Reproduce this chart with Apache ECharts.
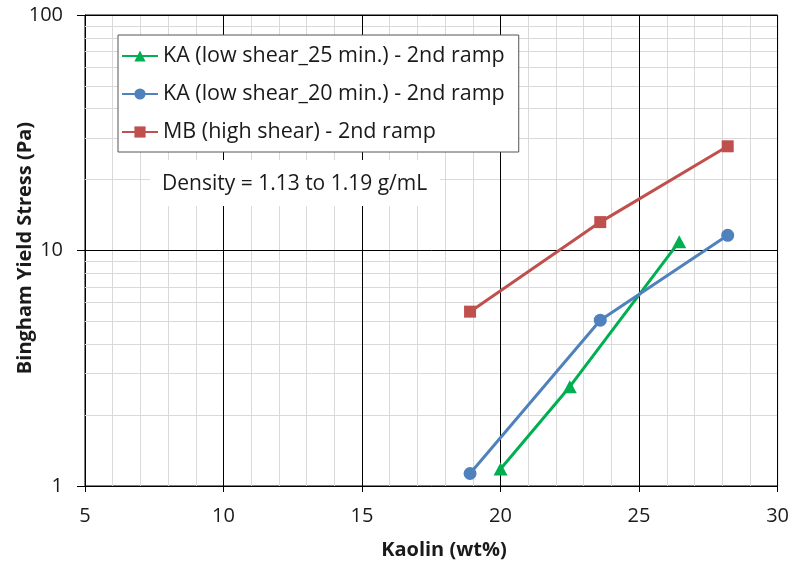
<!DOCTYPE html>
<html>
<head>
<meta charset="utf-8">
<script src="https://cdn.jsdelivr.net/npm/echarts@6/dist/echarts.min.js"></script>
<style>
html, body { margin: 0; padding: 0; background: #fff; }
#chart { width: 792px; height: 571px; }
</style>
</head>
<body>
<div id="chart"></div>
<script>
// Kaolin content (wt%) and Bingham yield stress (Pa) for each test series
const seriesNames = [
  'KA (low shear_25 min.) - 2nd ramp',
  'KA (low shear_20 min.) - 2nd ramp',
  'MB (high shear) - 2nd ramp'
];
const kaolinKA25 = [20.0, 22.5, 26.45];
const stressKA25 = [1.18, 2.64, 10.9];
const kaolinKA20 = [18.9, 23.6, 28.2];
const stressKA20 = [1.13, 5.06, 11.6];
const kaolinMB = [18.9, 23.6, 28.2];
const stressMB = [5.5, 13.2, 27.7];

// Axis ranges and grid line values
const xMin = 5, xMax = 30, xStep = 5;
const yMin = 1, yMax = 100;
const xMajorGrid = [10, 15, 20, 25, 30];
const yMajorGrid = [10, 100];
const yMinorGrid = [2, 3, 4, 5, 6, 7, 8, 9, 20, 30, 40, 50, 60, 70, 80, 90];
const noteText = 'Density = 1.13 to 1.19 g/mL';

const FONT = "'Open Sans', 'Liberation Sans', sans-serif";
const colors = ['#00b050', '#4f81bd', '#c0504d'];

const pairs = (xs, ys) => xs.map((x, i) => [x, ys[i]]);

const chart = echarts.init(document.getElementById('chart'), null, { renderer: 'canvas' });

chart.setOption({
  animation: false,
  backgroundColor: '#fff',
  textStyle: { fontFamily: FONT },
  grid: {
    left: 85, right: 14, top: 15, bottom: 85,
    show: true, borderColor: '#000', borderWidth: 1, backgroundColor: 'transparent'
  },
  xAxis: {
    type: 'value',
    min: xMin, max: xMax, interval: xStep,
    axisLine: { show: true, lineStyle: { color: '#000', width: 1 } },
    axisTick: { show: true, inside: false, length: 6, lineStyle: { color: '#000' } },
    axisLabel: { margin: 20, fontSize: 20, color: '#1a1a1a', fontFamily: FONT },
    splitLine: { show: false },
    minorTick: { show: false, splitNumber: 5 },
    minorSplitLine: { show: true, lineStyle: { color: '#d9d9d9', width: 1 } }
  },
  yAxis: {
    type: 'log', logBase: 10,
    min: yMin, max: yMax,
    axisLine: { show: true, lineStyle: { color: '#000', width: 1 } },
    axisTick: { show: true, inside: false, length: 8, lineStyle: { color: '#000' } },
    axisLabel: { margin: 22, fontSize: 20, color: '#1a1a1a', fontFamily: FONT },
    splitLine: { show: false },
    minorSplitLine: { show: false }
  },
  legend: {
    z: 100,
    data: seriesNames,
    orient: 'vertical',
    left: 118, top: 35,
    padding: [10, 14, 9, 3],
    itemGap: 16,
    itemWidth: 36, itemHeight: 14,
    backgroundColor: '#fff',
    borderColor: '#555', borderWidth: 1,
    textStyle: { fontSize: 21.5, color: '#1a1a1a', fontFamily: FONT, padding: [0, 0, 0, 0] }
  },
  graphic: [
    {
      type: 'rect', z: 50,
      shape: { x: 150, y: 160, width: 290, height: 46 },
      style: { fill: '#fff' }
    },
    {
      type: 'text', z: 51, x: 162, y: 184,
      style: { text: noteText, font: '21px ' + FONT, fill: '#1a1a1a', verticalAlign: 'middle' }
    },
    {
      type: 'text', x: 444, y: 550,
      style: { text: 'Kaolin (wt%)', font: 'bold 20px ' + FONT, fill: '#1a1a1a', align: 'center', verticalAlign: 'middle' }
    },
    {
      type: 'text', x: 25, y: 248, rotation: Math.PI / 2,
      style: { text: 'Bingham Yield Stress (Pa)', font: 'bold 20px ' + FONT, fill: '#1a1a1a', align: 'center', verticalAlign: 'middle' }
    }
  ],
  series: [
    {
      name: 'minor-grid', type: 'line', data: [], z: 1, silent: true,
      markLine: {
        silent: true, symbol: 'none', animation: false,
        label: { show: false },
        lineStyle: { color: '#d9d9d9', width: 1, type: 'solid' },
        data: yMinorGrid.map(v => ({ yAxis: v }))
      }
    },
    {
      name: 'major-grid', type: 'line', data: [], z: 2, silent: true,
      markLine: {
        silent: true, symbol: 'none', animation: false,
        label: { show: false },
        lineStyle: { color: '#000', width: 1, type: 'solid' },
        data: xMajorGrid.map(v => ({ xAxis: v })).concat(yMajorGrid.map(v => ({ yAxis: v })))
      }
    },
    {
      name: seriesNames[0], type: 'line', z: 10,
      data: pairs(kaolinKA25, stressKA25),
      symbol: 'triangle', symbolSize: [14, 13],
      lineStyle: { color: colors[0], width: 3 },
      itemStyle: { color: colors[0] }
    },
    {
      name: seriesNames[1], type: 'line', z: 10,
      data: pairs(kaolinKA20, stressKA20),
      symbol: 'circle', symbolSize: 13,
      lineStyle: { color: colors[1], width: 3 },
      itemStyle: { color: colors[1] }
    },
    {
      name: seriesNames[2], type: 'line', z: 10,
      data: pairs(kaolinMB, stressMB),
      symbol: 'rect', symbolSize: 12,
      lineStyle: { color: colors[2], width: 3 },
      itemStyle: { color: colors[2] }
    }
  ]
});
</script>
</body>
</html>
